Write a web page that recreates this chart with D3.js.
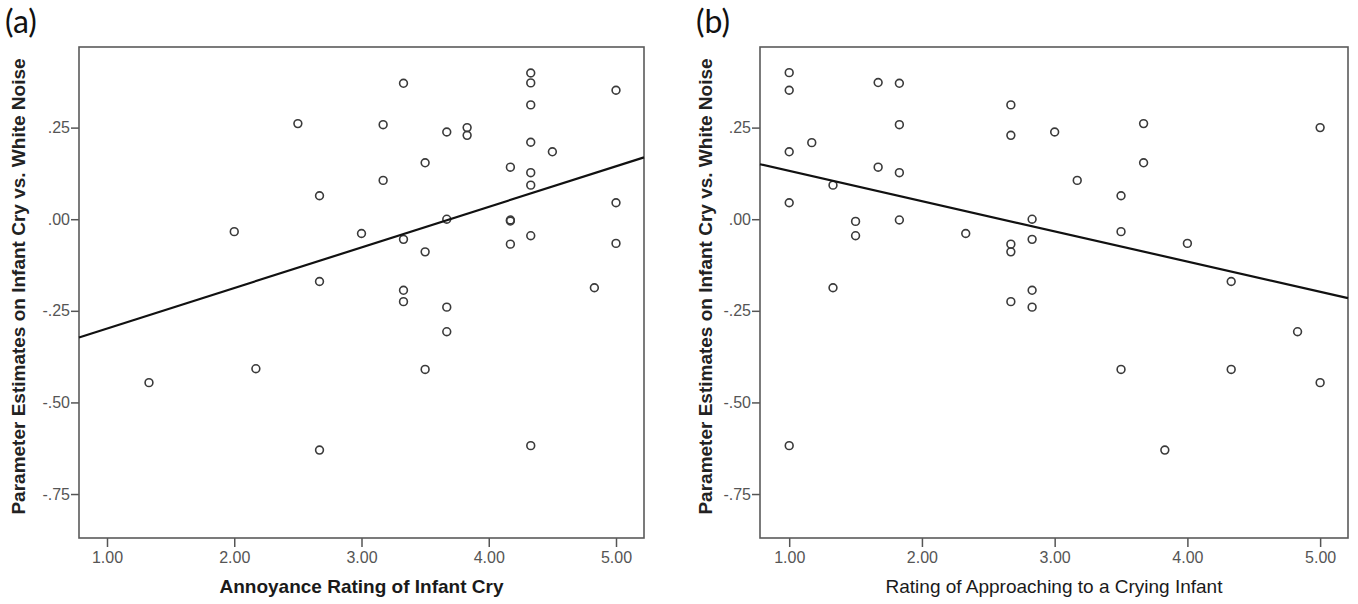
<!DOCTYPE html>
<html>
<head>
<meta charset="utf-8">
<script src="https://cdn.jsdelivr.net/npm/d3@7"></script>
<style>
  body { margin: 0; background: #fff; }
  svg { display: block; }
</style>
</head>
<body>
<script>
// tick values shared by both panels
var xTicks = [1, 2, 3, 4, 5];
var yTicks = [-0.75, -0.5, -0.25, 0, 0.25];

// panel (a): annoyance rating vs parameter estimate
var annoyX = [1.33, 2.00, 2.17, 2.50, 2.67, 2.67, 2.67, 3.00, 3.17, 3.17,
              3.33, 3.33, 3.33, 3.33, 3.50, 3.50, 3.50, 3.67, 3.67, 3.67,
              3.67, 3.83, 3.83, 4.17, 4.17, 4.17, 4.17, 4.33, 4.33, 4.33,
              4.33, 4.33, 4.33, 4.33, 4.33, 4.50, 4.83, 5.00, 5.00, 5.00];
var annoyY = [-0.446, -0.034, -0.408, 0.261, 0.064, -0.170, -0.630, -0.039, 0.258, 0.106,
              0.371, -0.055, -0.194, -0.225, 0.154, -0.089, -0.410, 0.238, 0.000, -0.240,
              -0.307, 0.250, 0.229, 0.142, -0.002, -0.005, -0.068, 0.399, 0.372, 0.312,
              0.210, 0.127, 0.093, -0.045, -0.618, 0.184, -0.187, 0.352, 0.045, -0.066];

// panel (b): approaching rating vs parameter estimate
var approachX = [1.00, 1.00, 1.00, 1.00, 1.00, 1.17, 1.33, 1.33, 1.50, 1.50,
                 1.67, 1.67, 1.83, 1.83, 1.83, 1.83, 2.33, 2.67, 2.67, 2.67,
                 2.67, 2.67, 2.83, 2.83, 2.83, 2.83, 3.00, 3.17, 3.50, 3.50,
                 3.50, 3.67, 3.67, 3.83, 4.00, 4.33, 4.33, 4.83, 5.00, 5.00];
var approachY = [0.400, 0.352, 0.184, 0.045, -0.618, 0.209, 0.093, -0.187, -0.006, -0.045,
                 0.373, 0.142, 0.371, 0.258, 0.127, -0.002, -0.039, 0.312, 0.229, -0.068,
                 -0.089, -0.225, 0.000, -0.055, -0.194, -0.240, 0.238, 0.106, 0.064, -0.034,
                 -0.410, 0.261, 0.154, -0.630, -0.066, -0.170, -0.410, -0.307, 0.250, -0.446];

var w = 1358;
var h = 604;
var plotTop = 47, plotBottom = 538;

var svg = d3.select("body")
            .append("svg")
            .attr("width", w)
            .attr("height", h);

svg.append("rect").attr("width", w).attr("height", h).attr("fill", "#fff");

//least squares fit, returns [intercept, slope]
function fit(xs, ys) {
  var mx = d3.mean(xs), my = d3.mean(ys);
  var sxy = 0, sxx = 0;
  for (var i = 0; i < xs.length; i++) {
    sxy += (xs[i] - mx) * (ys[i] - my);
    sxx += (xs[i] - mx) * (xs[i] - mx);
  }
  var b = sxy / sxx;
  return [my - b * mx, b];
}

//plain hyphen minus, no leading zero: -.25
var fmt2 = d3.formatLocale({ decimal: ".", thousands: ",", grouping: [3], currency: ["", ""], minus: "-" }).format(".2f");
function yFmt(d) {
  return fmt2(d).replace("0.", ".");
}

function panel(p) {
  var g = svg.append("g");

  var x = d3.scaleLinear().domain(p.xDomain).range([p.left, p.right]);
  var y = d3.scaleLinear().domain([-0.87, 0.47]).range([plotBottom, plotTop]);

  //y axis ticks
  var ya = g.append("g")
    .attr("transform", "translate(" + p.left + ",0)")
    .call(d3.axisLeft(y).tickValues(yTicks).tickFormat(yFmt).tickSize(8).tickPadding(1).tickSizeOuter(0));
  ya.select(".domain").remove();

  //x axis ticks
  var xa = g.append("g")
    .attr("transform", "translate(0," + plotBottom + ")")
    .call(d3.axisBottom(x).tickValues(xTicks).tickFormat(fmt2).tickSize(9).tickPadding(5).tickSizeOuter(0));
  xa.select(".domain").remove();

  g.selectAll(".tick line").attr("stroke", "#555").attr("stroke-width", 1.5);
  g.selectAll(".tick text")
   .attr("fill", "#555")
   .style("font-family", "'Liberation Sans', Arial, sans-serif")
   .style("font-size", "16px");

  //frame
  g.append("rect")
   .attr("x", p.left)
   .attr("y", plotTop)
   .attr("width", p.right - p.left)
   .attr("height", plotBottom - plotTop)
   .attr("fill", "none")
   .attr("stroke", "#5a5a5a")
   .attr("stroke-width", 1.6);

  //points
  g.selectAll("circle")
   .data(p.xs)
   .enter()
   .append("circle")
   .attr("cx", function(d) { return x(d); })
   .attr("cy", function(d, i) { return y(p.ys[i]); })
   .attr("r", 3.9)
   .attr("fill", "none")
   .attr("stroke", "#3a3a3a")
   .attr("stroke-width", 1.6);

  //fit line across the whole x range
  var ab = fit(p.xs, p.ys);
  g.append("line")
   .attr("x1", x(p.xDomain[0]))
   .attr("y1", y(ab[0] + ab[1] * p.xDomain[0]))
   .attr("x2", x(p.xDomain[1]))
   .attr("y2", y(ab[0] + ab[1] * p.xDomain[1]))
   .attr("stroke", "#111")
   .attr("stroke-width", 2.2);

  //titles
  g.append("text")
   .attr("x", (p.left + p.right) / 2)
   .attr("y", 593)
   .attr("text-anchor", "middle")
   .style("font-family", "'Liberation Sans', Arial, sans-serif")
   .style("font-weight", p.xTitleWeight)
   .style("font-size", "19px")
   .attr("fill", "#1a1a1a")
   .text(p.xTitle);

  g.append("text")
   .attr("transform", "translate(" + p.yTitleX + "," + ((plotTop + plotBottom) / 2 - 6) + ") rotate(-90)")
   .attr("text-anchor", "middle")
   .style("font-family", "'Liberation Sans', Arial, sans-serif")
   .style("font-weight", "bold")
   .style("font-size", "19px")
   .attr("fill", "#222")
   .text("Parameter Estimates on Infant Cry vs. White Noise");

  g.append("text")
   .attr("x", p.labelX)
   .attr("y", 33)
   .style("font-family", "Lato, 'Open Sans', sans-serif")
   .style("font-size", "32px")
   .attr("fill", "#111")
   .text(p.label);
}

panel({ left: 79, right: 644, xDomain: [0.78, 5.22], xs: annoyX, ys: annoyY, xTitleWeight: "bold",
        xTitle: "Annoyance Rating of Infant Cry", yTitleX: 25, labelX: 5, label: "(a)" });
panel({ left: 760, right: 1348, xDomain: [0.78, 5.21], xs: approachX, ys: approachY, xTitleWeight: "normal",
        xTitle: "Rating of Approaching to a Crying Infant", yTitleX: 712, labelX: 696, label: "(b)" });
</script>
</body>
</html>
